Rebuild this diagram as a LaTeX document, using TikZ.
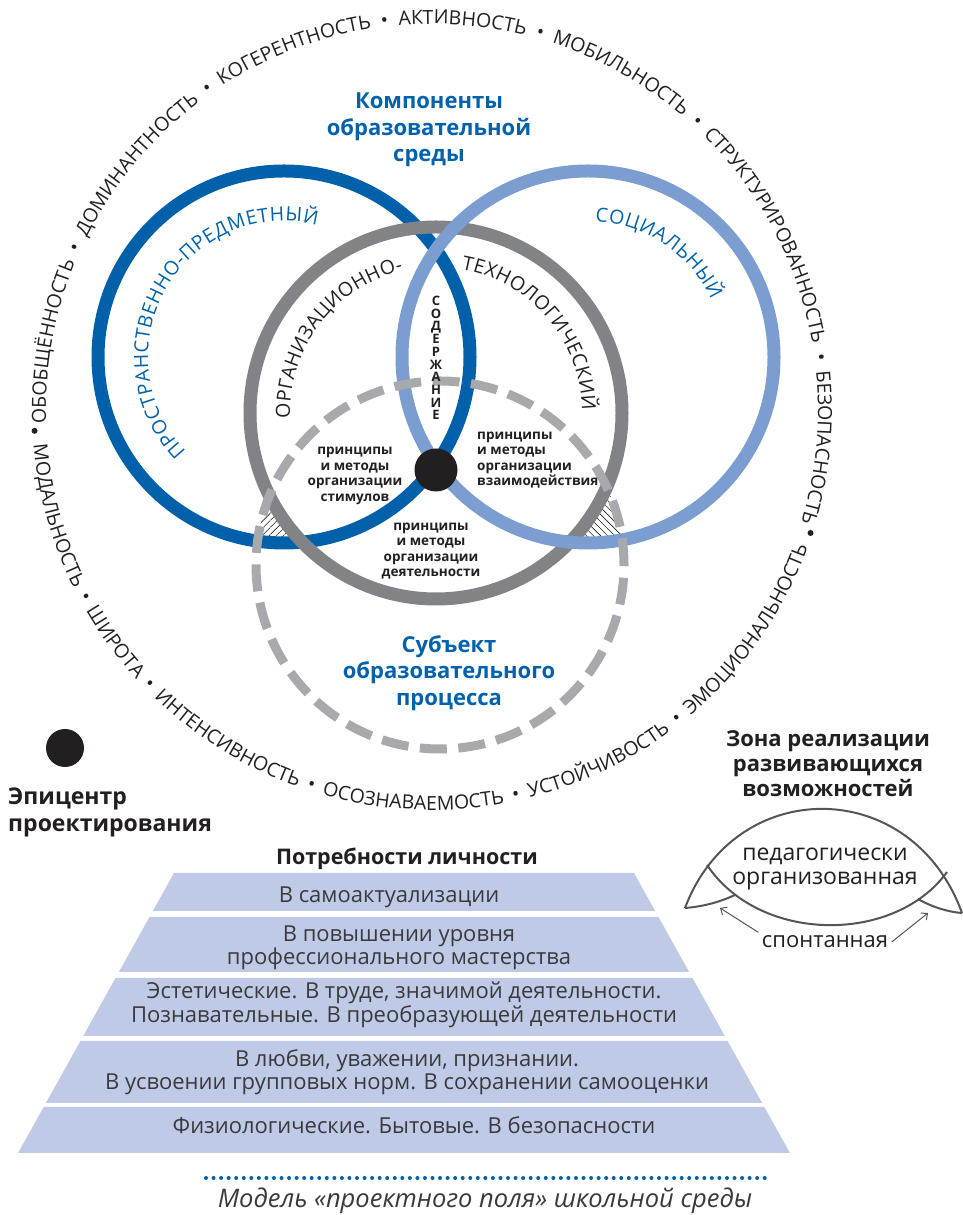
\documentclass[tikz,border=0pt]{standalone}
\usepackage{fontspec}
\setmainfont{Open Sans}
\usetikzlibrary{decorations.text,patterns.meta,arrows.meta}

\definecolor{spatialblue}{RGB}{0,96,169}
\definecolor{socialblue}{RGB}{123,157,208}
\definecolor{orggray}{RGB}{129,131,134}
\definecolor{subjgray}{RGB}{168,169,173}
\definecolor{titleblue}{RGB}{0,98,172}
\definecolor{ink}{RGB}{35,31,32}
\definecolor{needblue}{RGB}{191,203,230}
\definecolor{needink}{RGB}{58,58,60}
\definecolor{lensgray}{RGB}{85,85,85}

\newcommand{\fieldfont}{\fontsize{19.5}{20}\selectfont}
\newcommand{\ringfont}{\fontsize{19.5}{20}\selectfont}

\tikzset{
  ring/.style={line width=13pt},
  arctext/.style={decorate, decoration={text along path, text align={fit to path}}},
  fieldtext/.style={decorate, decoration={text along path, text align={fit to path stretching spaces}, text color=ink}},
  heading/.style={font=\bfseries\fontsize{22}{26.5}\selectfont, text=titleblue, align=center},
  blacktitle/.style={font=\bfseries\fontsize{22}{25}\selectfont, text=ink, align=center},
  methods/.style={font=\bfseries\fontsize{13.5}{15.5}\selectfont, text=ink, align=center, inner sep=0pt},
  needrow/.style={fill=needblue},
  needtext/.style={font=\fontsize{22}{23.5}\selectfont, text=needink, align=center, inner sep=0pt},
  lens/.style={draw=lensgray, line width=2pt},
  spont/.style={lensgray, line width=1pt, -{Straight Barb[length=5pt,width=9pt]}},
  hatch/.style={pattern={Lines[angle=#1, distance=5pt, line width=0.6pt]}, pattern color=ink, even odd rule}
}

\begin{document}
\begin{tikzpicture}[x=1pt, y=1pt]
\useasboundingbox (0,0) rectangle (962,1215);
\coordinate (field) at (432,805);
\coordinate (spatial) at (284,858);
\coordinate (social) at (588,858);
\coordinate (orgtech) at (436,802);
\coordinate (subject) at (440,650);

\path[fieldtext, decoration={text={|\fieldfont|ОБОБЩЁННОСТЬ • ДОМИНАНТНОСТЬ • КОГЕРЕНТНОСТЬ • АКТИВНОСТЬ • МОБИЛЬНОСТЬ • СТРУКТУРИРОВАННОСТЬ • БЕЗОПАСНОСТЬ}}]
  (field) ++(182:386) arc[start angle=182, end angle=-17, radius=386];
\path[fieldtext, decoration={text={|\fieldfont|МОДАЛЬНОСТЬ • ШИРОТА • ИНТЕНСИВНОСТЬ • ОСОЗНАВАЕМОСТЬ • УСТОЙЧИВОСТЬ • ЭМОЦИОНАЛЬНОСТЬ}}]
  (field) ++(185:400) arc[start angle=185, end angle=340, radius=400];
\fill[ink] (field) ++(183:398) circle (3);
\fill[ink] (field) ++(-18:398) circle (3);

\begin{scope}
  \clip (spatial) circle[radius=186];
  \clip (subject) circle[radius=184];
  \path[hatch=45] (0,0) rectangle (962,1215) (orgtech) circle[radius=186];
\end{scope}
\begin{scope}
  \clip (social) circle[radius=186];
  \clip (subject) circle[radius=184];
  \path[hatch=-45] (0,0) rectangle (962,1215) (orgtech) circle[radius=186];
\end{scope}

\draw[ring, spatialblue] (spatial) circle[radius=186];
\draw[ring, orggray] (orgtech) circle[radius=186];
\draw[ring, socialblue] (social) circle[radius=186];
\draw[subjgray, line width=9pt, dash pattern=on 27pt off 11.5pt] (subject) circle[radius=184];
\node[circle, fill=ink, minimum size=43pt, inner sep=0pt] (core) at (436,745) {};

\path[arctext, decoration={text color=titleblue, text={|\ringfont|ПРОСТРАНСТВЕННО-ПРЕДМЕТНЫЙ}}]
  (spatial) ++(224:136) arc[start angle=224, end angle=76, radius=136];
\path[arctext, decoration={text color=titleblue, text={|\ringfont|СОЦИАЛЬНЫЙ}}]
  (social) ++(87:136) arc[start angle=87, end angle=25, radius=136];
\path[arctext, decoration={text color=ink, text={|\ringfont|ОРГАНИЗАЦИОННО-}}]
  (orgtech) ++(182:146) arc[start angle=182, end angle=103, radius=146];
\path[arctext, decoration={text color=ink, text={|\ringfont|ТЕХНОЛОГИЧЕСКИЙ}}]
  (orgtech) ++(80:146) arc[start angle=80, end angle=1, radius=146];

\node[heading] (components) at (429,1085) {Компоненты\\образовательной\\среды};
\node[heading] (subjecttitle) at (449,542) {Субъект\\образовательного\\процесса};
\node[font=\bfseries\fontsize{13}{12.7}\selectfont, text=ink, align=center, inner sep=0pt] (content) at (436,857) {С\\О\\Д\\Е\\Р\\Ж\\А\\Н\\И\\Е};
\node[methods] (stimuli) at (355,739) {принципы\\и методы\\организации\\стимулов};
\node[methods, align=left, anchor=west] (interaction) at (477,755) {принципы\\и методы\\организации\\взаимодействия};
\node[methods] (activity) at (431,664) {принципы\\и методы\\организации\\деятельности};

\node[circle, fill=ink, minimum size=38pt, inner sep=0pt] (epicentre) at (65,467) {};
\node[blacktitle, font=\bfseries\fontsize{23}{27}\selectfont, align=left, anchor=west, inner sep=0pt] (epilabel) at (8,403) {Эпицентр\\проектирования};

\node[blacktitle] (zone) at (828,451) {Зона реализации\\развивающихся\\возможностей};
\draw[lens] (685,307) .. controls (735,440) and (912,440) .. (962,302);
\draw[lens] (707,350) .. controls (760,271) and (895,271) .. (947,343);
\draw[lens] (685,307) .. controls (705,308.5) and (722,314) .. (735,320);
\draw[lens] (918,316) .. controls (932,308) and (948,303) .. (962,302);
\node[font=\fontsize{23}{24.5}\selectfont, text=ink, align=center] (organised) at (825,346) {педагогически\\организованная};
\node[font=\fontsize{22}{24}\selectfont, text=ink] (spontaneous) at (825,273) {спонтанная};
\coordinate (leftlobe) at (720,307);
\coordinate (rightlobe) at (928,302);
\draw[spont] (spontaneous.north west) -- (leftlobe);
\draw[spont] (spontaneous.east) -- (rightlobe);

\node[font=\bfseries\fontsize{21.5}{24}\selectfont, text=ink, anchor=base] (needs) at (407,350) {Потребности личности};
\foreach \ytop/\ybot/\tx/\ty/\need [count=\i] in {
  342/304/389/318/{В самоактуализации},
  298/243/399/267/{В повышении уровня\\профессионального мастерства},
  237/179/404/210/{Эстетические. В труде, значимой деятельности.\\Познавательные. В преобразующей деятельности},
  174/112/407/143/{В любви, уважении, признании.\\В усвоении групповых норм. В сохранении самооценки},
  108/62/414/90/{Физиологические. Бытовые. В безопасности}}
{
  \fill[needrow] ({404-230-0.557*(342-\ytop)},\ytop) -- ({404+230+0.557*(342-\ytop)},\ytop)
    -- ({404+230+0.557*(342-\ybot)},\ybot) -- ({404-230-0.557*(342-\ybot)},\ybot) -- cycle;
  \node[needtext] (need\i) at (\tx,\ty) {\need};
}

\coordinate (dotsstart) at (206,37);
\coordinate (dotsend) at (765,37);
\draw[titleblue, line width=4pt, line cap=round, dash pattern=on 0pt off 7.55pt] (dotsstart) -- (dotsend);
\node[font=\itshape\fontsize{25.5}{30}\selectfont, text=needink, anchor=base, inner sep=0pt] (caption) at (485,8) {Модель «проектного поля» школьной среды};
\end{tikzpicture}
\end{document}
